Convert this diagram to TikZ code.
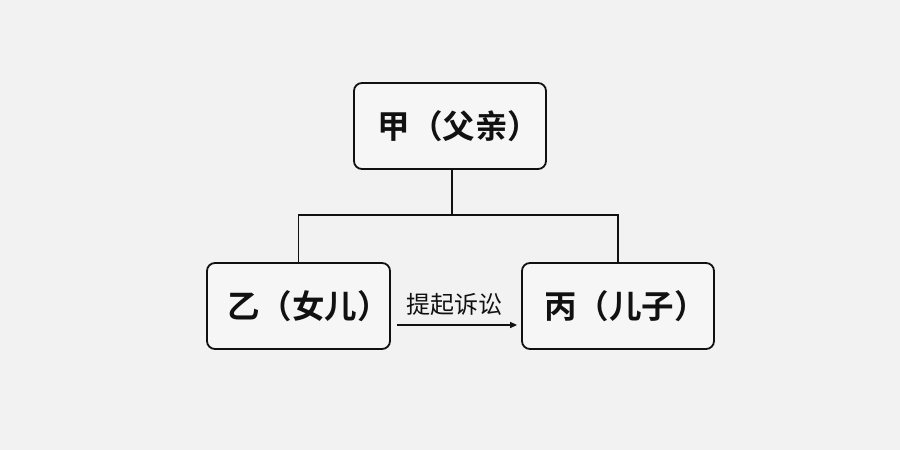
\documentclass[tikz,border=0pt]{standalone}
\usepackage{fontspec}
\newfontfamily\cjk{Noto Sans CJK SC}
\newfontfamily\cjkb{Noto Sans CJK SC Bold}
\usetikzlibrary{arrows.meta}
\definecolor{paper}{HTML}{F2F2F2}
\definecolor{ink}{HTML}{111111}
\tikzset{
  person/.style={draw=ink, line width=1.8pt, rounded corners=8pt, fill=white, fill opacity=0.35, text opacity=1,
    minimum height=86pt, inner sep=0pt, font=\cjkb\fontsize{32.5pt}{36pt}\selectfont, text=ink},
  link/.style={draw=ink, line width=1.8pt},
  lbl/.style={font=\cjk\fontsize{24pt}{27pt}\selectfont, text=ink}
}
\begin{document}
\begin{tikzpicture}[x=1pt,y=1pt]
\fill[paper] (0,0) rectangle (900,450);
\useasboundingbox (0,0) rectangle (900,450);
\node[person, minimum width=192pt] (jia) at (450,324) {\hspace*{18pt}甲（父亲）};
\node[person, minimum width=183pt] (yi) at (298.5,144) {\hspace*{20pt}乙（女儿）};
\node[person, minimum width=192pt] (bing) at (618,144) {\hspace*{15pt}丙（儿子）};
\coordinate (mid) at (452,235);
\draw[link] (jia.south -| mid) -- (mid);
\draw[link] (yi.north) |- (mid) -| (bing.north);
\draw[link, line width=1.3pt, -{Triangle[length=7pt,width=6pt]}] ([xshift=6pt,yshift=-19pt]yi.east) -- ([xshift=-4pt,yshift=-19pt]bing.west)
  node[lbl, midway, above=5pt, xshift=-3pt] (lab) {提起诉讼};
\end{tikzpicture}
\end{document}
